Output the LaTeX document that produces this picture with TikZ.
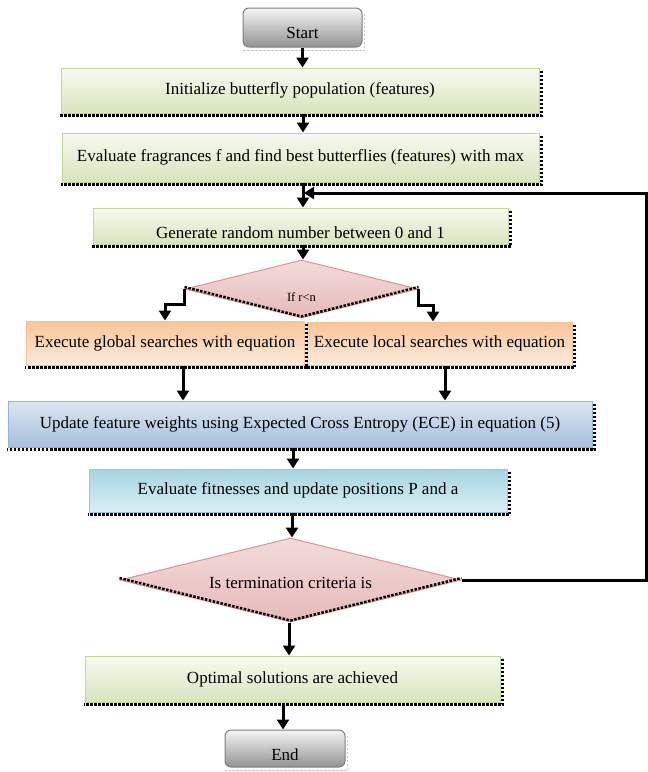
\documentclass[tikz,border=0pt]{standalone}
\usepackage{fontspec}
\setmainfont{Liberation Serif}
\usetikzlibrary{shapes.geometric,arrows.meta}
\definecolor{grnline}{HTML}{C3D69B}
\definecolor{grnlow}{HTML}{D7E4BD}
\definecolor{grntop}{HTML}{F7FAF0}
\definecolor{orgline}{HTML}{FAC090}
\definecolor{orgtop}{HTML}{F9C49A}
\definecolor{orglow}{HTML}{FDEADC}
\definecolor{pnkline}{HTML}{D99694}
\definecolor{pnktop}{HTML}{F2DCDB}
\definecolor{pnklow}{HTML}{E6B9B8}
\definecolor{bluline}{HTML}{95B3D7}
\definecolor{blutop}{HTML}{DCE6F2}
\definecolor{blulow}{HTML}{A7BFDE}
\definecolor{cyaline}{HTML}{93CDDD}
\definecolor{cyatop}{HTML}{A5D5E2}
\definecolor{cyalow}{HTML}{DBEEF4}
\begin{document}
\begin{tikzpicture}[x=1pt,y=-1pt,>={Triangle[width=12pt,length=10pt]},font=\fontsize{17}{19}\selectfont,
  stepbox/.style={rectangle,line width=1pt,inner sep=0pt},
  greenbox/.style={stepbox,draw=grnline,top color=grntop,bottom color=grnlow},
  orangebox/.style={stepbox,draw=orgline,top color=orgtop,bottom color=orglow},
  bluebox/.style={stepbox,draw=bluline,top color=blutop,bottom color=blulow},
  cyanbox/.style={stepbox,draw=cyaline,top color=cyatop,bottom color=cyalow},
  termbox/.style={stepbox,rounded corners=6pt,draw=gray,top color=gray!8,bottom color=gray!85},
  decision/.style={diamond,aspect=4,inner sep=0pt,line width=1pt,draw=pnkline,top color=pnktop,bottom color=pnklow},
  flow/.style={->,line width=3pt},
  shade/.style={line width=2.5pt,dash pattern=on 2.5pt off 1.5pt}]
\useasboundingbox (0,0) rectangle (648,772);
% steps
\node[termbox,minimum width=119,minimum height=39] (start) at (302.5,27.5) {\raisebox{-11pt}[0pt][0pt]{Start}};
\node[greenbox,minimum width=478,minimum height=45] (init) at (300,90.5) {Initialize butterfly population (features)};
\node[greenbox,minimum width=477,minimum height=49] (evalf) at (300.5,157.5) {Evaluate fragrances f and find best butterflies (features) with max};
\node[greenbox,minimum width=415,minimum height=36] (gen) at (300.5,226) {\raisebox{-12.5pt}[0pt][0pt]{Generate random number between 0 and 1}};
\node[decision,minimum width=233,minimum height=58] (d1) at (301.5,289) {\fontsize{12.5}{14}\selectfont\raisebox{-12pt}[0pt][0pt]{If r<n}};
\node[orangebox,minimum width=278,minimum height=44] (global) at (165,343) {Execute global searches with equation};
\node[orangebox,minimum width=265,minimum height=43] (local) at (439.5,343.5) {Execute local searches with equation};
\node[bluebox,minimum width=584,minimum height=46] (update) at (300,424) {Update feature weights using Expected Cross Entropy (ECE) in equation (5)};
\node[cyanbox,minimum width=418,minimum height=43] (fit) at (298,490.5) {Evaluate fitnesses and update positions P and a};
\node[decision,minimum width=341,minimum height=84] (d2) at (290.5,580) {\raisebox{-8.5pt}[0pt][0pt]{Is termination criteria is}};
\node[greenbox,minimum width=415,minimum height=46] (opt) at (292.5,679) {Optimal solutions are achieved};
\node[termbox,minimum width=120,minimum height=37] (end) at (285,748.5) {\raisebox{-12pt}[0pt][0pt]{End}};
% shadows
\foreach \n in {init,evalf,gen,global,local,update,fit,opt}{
\draw[shade] ([shift={(2,3)}]\n.north east) -- ([shift={(2,2)}]\n.south east) -- ([shift={(-1,2)}]\n.south west);
}
\foreach \n in {start,end}{
\draw[shade,gray!45,line width=1.5pt] ([shift={(2,6)}]\n.north east) -- ([shift={(2,3)}]\n.south east) -- ([shift={(0,3)}]\n.south west);
}
\foreach \n in {d1,d2}{
\draw[shade] ([yshift=2]\n.west) -- ([yshift=2]\n.south) -- ([yshift=2]\n.east);
}
% connectors
\coordinate (merge) at (304,193);
\draw[flow] (start.south) -- (start.south |- init.north);
\draw[flow] ([xshift=3]init.south) -- ([xshift=3]init.south |- evalf.north);
\draw[flow] ([xshift=2.5]evalf.south) -- ([xshift=2.5]evalf.south |- gen.north);
\draw[flow] ([xshift=2.5]gen.south) -- ([xshift=1.5]d1.north);
\draw[flow] (d1.west) -- ++(0,15) -| (global.north);
\draw[flow] (d1.east) -- ++(0,16) -| ([xshift=-6.5]local.north);
\draw[flow] ([xshift=18]global.south) -- ([xshift=18]global.south |- update.north);
\draw[flow] ([xshift=5.5]local.south) -- ([xshift=5.5]local.south |- update.north);
\draw[flow] ([xshift=-7]update.south) -- ([xshift=-7]update.south |- fit.north);
\draw[flow] ([xshift=-6]fit.south) -- ([xshift=1.5]d2.north);
\draw[flow] ([xshift=-1.5]d2.south) -- ([xshift=-3.5]opt.north);
\draw[flow] ([xshift=-9.5]opt.south) -- ([xshift=-2]end.north);
\draw[flow] (d2.east) -- ++(184.5,0) |- (merge);
\end{tikzpicture}
\end{document}
